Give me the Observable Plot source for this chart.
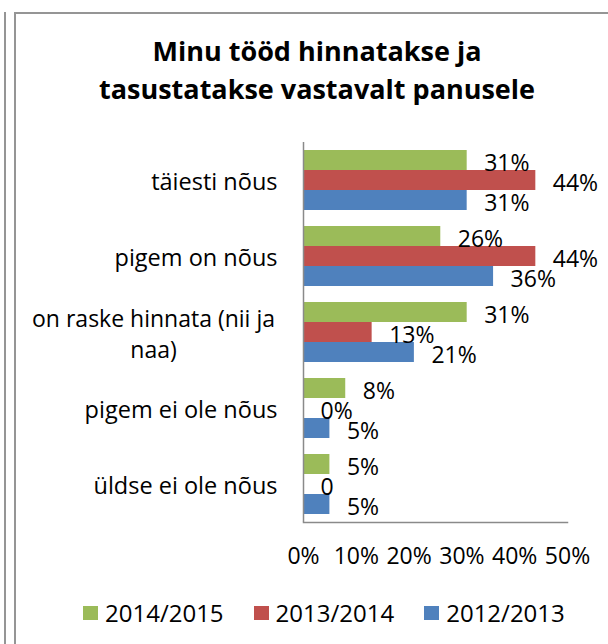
<!DOCTYPE html>
<html>
<head>
<meta charset="utf-8">
<script src="https://cdn.jsdelivr.net/npm/d3@7"></script>
<script src="https://cdn.jsdelivr.net/npm/@observablehq/plot@0.6"></script>
<style>
  html, body { margin: 0; padding: 0; background: #fff; }
  body { width: 608px; height: 644px; position: relative; overflow: hidden; font-family: 'Open Sans', sans-serif; color: #000; }
  .vline1 { position: absolute; left: 4px; top: 12px; width: 2px; height: 640px; background: #959595; }
  .frame { position: absolute; left: 14px; top: 12px; width: 620px; height: 660px; border-left: 2px solid #959595; border-top: 2px solid #959595; box-sizing: border-box; }
  .title { position: absolute; left: 0; top: 32px; width: 634px; text-align: center; font-weight: 700; font-size: 27px; line-height: 38px; }
  #chart { position: absolute; left: 0; top: 133px; }
  .legend { position: absolute; left: 83px; top: 596px; display: flex; align-items: center; font-size: 24px; line-height: 34px; }
  .legend .sw { width: 15px; height: 14px; margin-right: 7px; }
  .legend .it { display: flex; align-items: center; margin-right: 30px; }
</style>
</head>
<body>
<div class="vline1"></div>
<div class="frame"></div>
<div class="title">Minu tööd hinnatakse ja<br>tasustatakse vastavalt panusele</div>
<div id="chart"></div>
<div class="legend" id="legend"></div>
<script>
const categories = ["täiesti nõus", "pigem on nõus", "on raske hinnata (nii ja\nnaa)", "pigem ei ole nõus", "üldse ei ole nõus"];
const series = ["2014/2015", "2013/2014", "2012/2013"];
const colors = ["#9BBB59", "#C0504D", "#4F81BD"];
const values2014 = [31, 26, 31, 8, 5];
const values2013 = [44, 44, 13, 0, 0];
const values2012 = [31, 36, 21, 5, 5];
const labels2014 = ["31%", "26%", "31%", "8%", "5%"];
const labels2013 = ["44%", "44%", "13%", "0%", "0"];
const labels2012 = ["31%", "36%", "21%", "5%", "5%"];
const xTicks = [0, 10, 20, 30, 40, 50];

const seriesValues = [values2014, values2013, values2012];
const seriesLabels = [labels2014, labels2013, labels2012];

const rows = series.map((s, i) => categories.map((c, j) => ({
  cat: c, series: s, value: seriesValues[i][j], label: seriesLabels[i][j]
})));

const marks = [];
rows.forEach((data, i) => {
  marks.push(Plot.barX(data, {
    x: "value", y: "cat", fill: colors[i],
    insetTop: 20 * i, insetBottom: 20 * (2 - i)
  }));
});
rows.forEach((data, i) => {
  marks.push(Plot.text(data, {
    x: "value", y: "cat", text: "label", textAnchor: "start",
    dx: 17, dy: -17 + 20 * i, fontSize: 23, fill: "#000"
  }));
});
marks.push(Plot.ruleX([0], {stroke: "#8a8a8a", strokeWidth: 1.5}));
marks.push(Plot.frame({anchor: "bottom", stroke: "#8a8a8a", strokeWidth: 1.5}));
marks.push(Plot.axisY({
  tickSize: 0, tickPadding: 26, fontSize: 23.5, dy: 2, label: null,
  tickFormat: d => d.includes("\n") ? "" : d
}));
marks.push(Plot.text(categories.filter(d => d.includes("\n")), {
  y: d => d, text: d => d, frameAnchor: "left", textAnchor: "middle",
  dx: -150, lineHeight: 1.35, fontSize: 23, fill: "#000"
}));
marks.push(Plot.axisX({
  ticks: xTicks, tickFormat: d => d + "%", tickSize: 0, tickPadding: 25,
  fontSize: 23, label: null
}));

const chart = Plot.plot({
  width: 608, height: 460,
  marginLeft: 303, marginRight: 41, marginTop: 9, marginBottom: 71,
  style: {fontFamily: "'Open Sans', sans-serif", fontSize: "23px", color: "#000", background: "transparent", overflow: "visible"},
  x: {domain: [0, 50]},
  y: {type: "band", domain: categories, paddingInner: 16 / 76, paddingOuter: 8 / 76},
  marks
});
document.getElementById("chart").appendChild(chart);

const legend = document.getElementById("legend");
series.forEach((s, i) => {
  const it = document.createElement("div");
  it.className = "it";
  const sw = document.createElement("div");
  sw.className = "sw";
  sw.style.background = colors[i];
  const tx = document.createElement("span");
  tx.textContent = s;
  it.appendChild(sw);
  it.appendChild(tx);
  legend.appendChild(it);
});
</script>
</body>
</html>
